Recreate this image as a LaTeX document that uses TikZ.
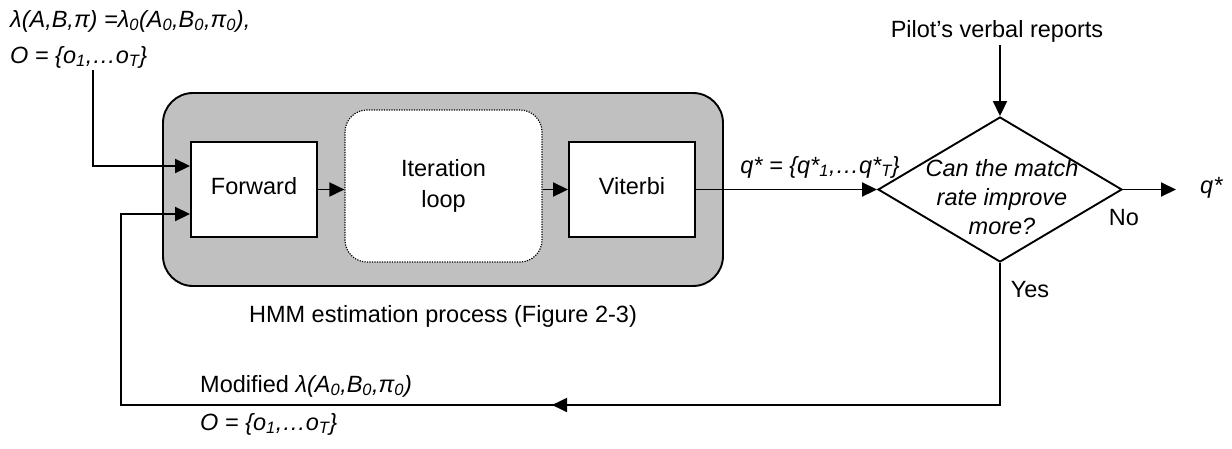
\documentclass[tikz,border=0pt]{standalone}
\usepackage{fontspec}
\setmainfont{Liberation Sans}
\usetikzlibrary{arrows.meta,shapes.geometric,calc,decorations.markings}
\definecolor{panelgray}{RGB}{192,192,192}
\begin{document}
\begin{tikzpicture}[x=1pt,y=-1pt,
  every node/.style={font=\fontsize{23.5}{29.5}\selectfont, inner sep=0pt},
  conn/.style={line width=1.9pt},
  tip/.style={-{Triangle[length=15pt,width=14pt]}},
  arr/.style={conn,tip},
  proc/.style={draw, line width=1.9pt, fill=white, minimum width=126pt,
    minimum height=95pt, text height=17pt, text depth=8pt},
  lbl/.style={anchor=base, font=\fontsize{23.5}{29.5}\selectfont\itshape},
  plain/.style={anchor=base},
  midarrow/.style={decoration={markings,
      mark=at position #1 with {\arrow{Triangle[length=15pt,width=14pt]}}},
    postaction=decorate}
]
\useasboundingbox (0,0) rectangle (1232,448);

% HMM estimation panel
\node[draw, line width=1.9pt, fill=panelgray, rounded corners=30pt,
  minimum width=560pt, minimum height=193pt] (panel) at (443,189.5) {};
\node[proc] (fwd) at (254,189.5) {Forward};
\node[draw, line width=1.2pt, dash pattern=on 1.2pt off 1.3pt, fill=white,
  rounded corners=22pt, minimum width=197pt, minimum height=152pt,
  align=center, font=\fontsize{23.5}{31}\selectfont] (iter) at (443.5,186) {Iteration\\loop};
\node[proc] (vit) at (632,189.5) {Viterbi};
\node[plain] (caption) at (443,322) {HMM estimation process (Figure 2-3)};

% decision
\node[draw, diamond, line width=1.9pt, fill=white, minimum width=244pt,
  minimum height=145pt] (dec) at (1000,189.5) {};
\node[align=center, font=\fontsize{23.5}{29}\selectfont\itshape] (question)
  at (1002,197.5) {Can the match\\rate improve\\more?};

% labels
\node[lbl, anchor=base west] (init) at (10,27)
  {λ(A,B,π) =λ\textsubscript{0}(A\textsubscript{0},B\textsubscript{0},π\textsubscript{0}),};
\node[lbl, anchor=base west] (obs) at (10,63) {O = \{o\textsubscript{1},…o\textsubscript{T}\}};
\node[plain, inner sep=3pt] (pilot) at (997,37) {Pilot’s verbal reports};
\node[lbl] (qseq) at (820,173) {q* = \{q*\textsubscript{1},…q*\textsubscript{T}\}};
\node[lbl, anchor=base west] (qout) at (1200,193) {q*};
\node[plain] (no) at (1124,225) {No};
\node[plain] (yes) at (1030,297) {Yes};
\node[plain, anchor=base west] (modified) at (200,392)
  {Modified \itshape λ(A\textsubscript{0},B\textsubscript{0},π\textsubscript{0})};
\node[lbl, anchor=base west] (obs2) at (200,430) {O = \{o\textsubscript{1},…o\textsubscript{T}\}};

% connectors
\coordinate (in1) at (93,70);
\coordinate (cA) at (121,405);
\coordinate (cB) at (dec.south |- cA);

\draw[arr] (in1) |- ($(fwd.west)+(0,-23.5)$);
\draw[arr] (fwd.east) -- (fwd.east -| iter.west);
\draw[arr] (vit.west -| iter.east) -- (vit.west);
\draw[arr] (vit.east) -- (dec.west);
\draw[arr] (pilot.south -| dec.north) -- (dec.north);
\draw[arr, shorten >=24pt] (dec.east) -- (dec.east -| qout.west);
\draw[arr, midarrow=590pt] (dec.south) -- (cB) -- (cA) |- ($(fwd.west)+(0,24.5)$);
\end{tikzpicture}
\end{document}
